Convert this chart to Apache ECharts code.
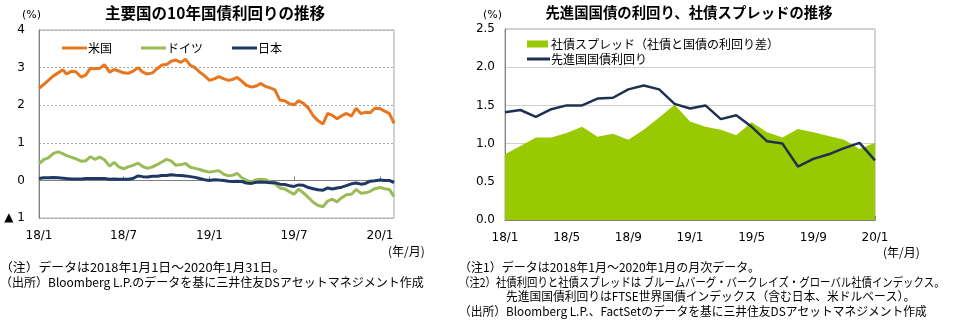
<!DOCTYPE html>
<html><head><meta charset="utf-8">
<script src="https://cdn.jsdelivr.net/npm/echarts@6/dist/echarts.min.js"></script>
<style>html,body{margin:0;padding:0;background:#fff}#c{width:956px;height:323px}</style>
</head><body><div id="c"></div>
<script>
// ---------- Left chart: 10Y government bond yields (sampled dates) ----------
const sampleDates = [
 '2018-01-01','2018-01-11','2018-01-21','2018-02-01','2018-02-11','2018-02-21','2018-03-01','2018-03-11','2018-03-21',
 '2018-04-01','2018-04-11','2018-04-21','2018-05-01','2018-05-11','2018-05-21','2018-06-01','2018-06-11','2018-06-21',
 '2018-07-01','2018-07-11','2018-07-21','2018-08-01','2018-08-11','2018-08-21','2018-09-01','2018-09-11','2018-09-21',
 '2018-10-01','2018-10-11','2018-10-21','2018-11-01','2018-11-11','2018-11-21','2018-12-01','2018-12-11','2018-12-21',
 '2019-01-01','2019-01-11','2019-01-21','2019-02-01','2019-02-11','2019-02-21','2019-03-01','2019-03-11','2019-03-21',
 '2019-04-01','2019-04-11','2019-04-21','2019-05-01','2019-05-11','2019-05-21','2019-06-01','2019-06-11','2019-06-21',
 '2019-07-01','2019-07-11','2019-07-21','2019-08-01','2019-08-11','2019-08-21','2019-09-01','2019-09-11','2019-09-21',
 '2019-10-01','2019-10-11','2019-10-21','2019-11-01','2019-11-11','2019-11-21','2019-12-01','2019-12-11','2019-12-21',
 '2020-01-01','2020-01-11','2020-01-21','2020-01-31'
];
const usYield = [
 2.45,2.55,2.66, 2.78,2.86,2.94, 2.83,2.90,2.89,
 2.75,2.80,2.98, 2.97,2.98,3.08, 2.88,2.95,2.91,
 2.86,2.85,2.90, 3.00,2.88,2.83, 2.86,2.97,3.07,
 3.08,3.17,3.20, 3.14,3.22,3.06, 3.00,2.88,2.79,
 2.66,2.70,2.76, 2.70,2.66,2.69, 2.74,2.64,2.53,
 2.48,2.51,2.58, 2.50,2.46,2.41, 2.13,2.12,2.04,
 2.01,2.12,2.05, 1.92,1.72,1.59, 1.50,1.78,1.73,
 1.64,1.72,1.78, 1.71,1.92,1.78, 1.81,1.80,1.92,
 1.91,1.84,1.78,1.52
];
const deYield = [
 0.45,0.55,0.60, 0.72,0.76,0.71, 0.66,0.62,0.57,
 0.51,0.52,0.63, 0.56,0.62,0.55, 0.38,0.48,0.36,
 0.31,0.36,0.40, 0.46,0.37,0.32, 0.36,0.42,0.49,
 0.56,0.52,0.40, 0.42,0.45,0.35, 0.32,0.29,0.25,
 0.22,0.24,0.26, 0.16,0.12,0.14, 0.19,0.07,0.01,
 -0.05,0.02,0.03, 0.02,-0.04,-0.09, -0.20,-0.23,-0.30,
 -0.37,-0.23,-0.33, -0.46,-0.58,-0.66, -0.70,-0.55,-0.50,
 -0.57,-0.46,-0.38, -0.37,-0.24,-0.34, -0.33,-0.29,-0.22,
 -0.19,-0.22,-0.24,-0.43
];
const jpYield = [
 0.05,0.07,0.07, 0.08,0.07,0.06, 0.05,0.04,0.04,
 0.04,0.05,0.05, 0.05,0.05,0.05, 0.03,0.04,0.03,
 0.03,0.03,0.05, 0.12,0.10,0.09, 0.11,0.11,0.13,
 0.13,0.15,0.14, 0.13,0.12,0.10, 0.08,0.05,0.02,
 0.00,0.02,0.01, 0.00,-0.02,-0.03, -0.02,-0.03,-0.07,
 -0.08,-0.05,-0.04, -0.05,-0.06,-0.06, -0.10,-0.11,-0.14,
 -0.16,-0.12,-0.13, -0.19,-0.22,-0.25, -0.26,-0.20,-0.23,
 -0.20,-0.18,-0.14, -0.09,-0.07,-0.10, -0.08,-0.02,-0.01,
 0.01,0.00,0.00,-0.06
];
const leftTickDates = ['2018-01-01','2018-07-01','2019-01-01','2019-07-01','2020-01-01'];
const leftStart = '2018-01-01', leftEnd = '2020-01-31';

// ---------- Right chart: monthly ----------
const months = [
 '2018-01','2018-02','2018-03','2018-04','2018-05','2018-06','2018-07','2018-08','2018-09','2018-10','2018-11','2018-12',
 '2019-01','2019-02','2019-03','2019-04','2019-05','2019-06','2019-07','2019-08','2019-09','2019-10','2019-11','2019-12',
 '2020-01'
];
const spread = [0.86,0.97,1.08,1.08,1.14,1.22,1.09,1.13,1.05,1.18,1.34,1.51,1.29,1.22,1.18,1.11,1.28,1.15,1.08,1.19,1.15,1.10,1.05,0.93,1.01];
const dmYield = [1.41,1.44,1.35,1.45,1.50,1.50,1.59,1.60,1.71,1.76,1.71,1.52,1.46,1.50,1.32,1.37,1.22,1.03,1.00,0.70,0.80,0.86,0.94,1.01,0.78];
const rightTickMonths = ['2018-01','2018-05','2018-09','2019-01','2019-05','2019-09','2020-01'];

// daily category axis
const days = [];
for (let t = Date.parse(leftStart + 'T00:00:00Z'); t <= Date.parse(leftEnd + 'T00:00:00Z'); t += 86400000) {
  days.push(new Date(t).toISOString().slice(0, 10));
}
const pair = (dates, vals) => dates.map((d, i) => [d, vals[i]]);
const ymLabel = s => s.slice(2, 4) + '/' + Number(s.slice(5, 7));

const JP = '"Noto Sans CJK JP", sans-serif';
const NUM = '"DejaVu Sans", sans-serif';
const noteFont = '12px ' + JP;
const note = (x, y, text, sx) => ({type: 'text', x: x, y: y, scaleX: sx || 1,
  style: {text: text, font: noteFont, fill: '#000'}});

const chart = echarts.init(document.getElementById('c'), null, {renderer: 'canvas'});
chart.setOption({
  animation: false,
  backgroundColor: '#fff',
  title: [
    {text: '主要国の10年国債利回りの推移', left: 215, textAlign: 'center', top: 5, padding: 0,
     textStyle: {fontFamily: JP, fontSize: 15.5, fontWeight: 'bold', color: '#000'}},
    {text: '先進国国債の利回り、社債スプレッドの推移', left: 689, textAlign: 'center', top: 5, padding: 0,
     textStyle: {fontFamily: JP, fontSize: 14.4, fontWeight: 'bold', color: '#000'}}
  ],
  legend: [
    {data: ['米国', 'ドイツ', '日本'], icon: 'rect', left: 57, top: 37, itemWidth: 25, itemHeight: 3, itemGap: 29,
     textStyle: {fontFamily: JP, fontSize: 12, color: '#000', padding: [0, 0, 0, -4]}},
    {data: ['社債スプレッド（社債と国債の利回り差）'], icon: 'rect', left: 522, top: 33, itemWidth: 21, itemHeight: 7,
     textStyle: {fontFamily: JP, fontSize: 12, color: '#000', padding: [0, 0, 0, -2]}},
    {data: ['先進国国債利回り'], icon: 'rect', left: 522, top: 48, itemWidth: 23, itemHeight: 3,
     textStyle: {fontFamily: JP, fontSize: 12, color: '#000', padding: [0, 0, 0, -4]}}
  ],
  grid: [
    {left: 39, right: 562, top: 30, bottom: 105, show: true, borderColor: '#a6a6a6', borderWidth: 1},
    {left: 505, right: 81, top: 29, bottom: 103, show: true, borderColor: '#a6a6a6', borderWidth: 1}
  ],
  xAxis: [
    {type: 'category', gridIndex: 0, data: days, boundaryGap: false,
     axisLine: {lineStyle: {color: '#808080', width: 1}},
     axisTick: {inside: true, length: 4, lineStyle: {color: '#808080'},
                interval: (i, v) => leftTickDates.includes(v)},
     axisLabel: {interval: (i, v) => leftTickDates.includes(v), formatter: v => ymLabel(v),
                 fontFamily: NUM, fontSize: 12, color: '#000', margin: 12}},
    {type: 'category', gridIndex: 1, data: months, boundaryGap: false,
     axisLine: {lineStyle: {color: '#808080', width: 1}},
     axisTick: {inside: true, length: 4, lineStyle: {color: '#808080'},
                interval: (i, v) => rightTickMonths.includes(v)},
     axisLabel: {interval: (i, v) => rightTickMonths.includes(v), formatter: v => ymLabel(v),
                 fontFamily: NUM, fontSize: 12, color: '#000', margin: 12}}
  ],
  yAxis: [
    {type: 'value', gridIndex: 0, min: -1, max: 4, interval: 1,
     axisLine: {show: true, lineStyle: {color: '#808080'}}, axisTick: {show: false},
     splitLine: {lineStyle: {color: '#a6a6a6', type: [2, 2], width: 1}},
     axisLabel: {formatter: v => v < 0 ? '▲ ' + (-v) : String(v), fontFamily: NUM, fontSize: 12, color: '#000', margin: 14}},
    {type: 'value', gridIndex: 1, min: 0, max: 2.5, interval: 0.5,
     axisLine: {show: true, lineStyle: {color: '#808080'}}, axisTick: {show: false},
     splitLine: {lineStyle: {color: '#d0d0d0', width: 1}},
     axisLabel: {formatter: v => v.toFixed(1), fontFamily: NUM, fontSize: 12, color: '#000', margin: 10}}
  ],
  series: [
    {name: '米国', type: 'line', xAxisIndex: 0, yAxisIndex: 0, data: pair(sampleDates, usYield),
     symbol: 'none', lineStyle: {color: '#e8761e', width: 3}, itemStyle: {color: '#e8761e'}},
    {name: 'ドイツ', type: 'line', xAxisIndex: 0, yAxisIndex: 0, data: pair(sampleDates, deYield),
     symbol: 'none', lineStyle: {color: '#9bbb59', width: 3}, itemStyle: {color: '#9bbb59'}},
    {name: '日本', type: 'line', xAxisIndex: 0, yAxisIndex: 0, data: pair(sampleDates, jpYield),
     symbol: 'none', lineStyle: {color: '#1f3864', width: 3}, itemStyle: {color: '#1f3864'}},
    {name: '社債スプレッド（社債と国債の利回り差）', type: 'line', xAxisIndex: 1, yAxisIndex: 1, data: spread,
     symbol: 'none', lineStyle: {width: 0, color: '#99c900'}, areaStyle: {color: '#99c900', opacity: 1},
     itemStyle: {color: '#99c900'}},
    {name: '先進国国債利回り', type: 'line', xAxisIndex: 1, yAxisIndex: 1, data: dmYield,
     symbol: 'none', lineStyle: {color: '#1f3050', width: 2.5}, itemStyle: {color: '#1f3050'}}
  ],
  graphic: [
    {type: 'text', x: 22, y: 10, style: {text: '(%)', font: '11px ' + NUM, fill: '#000'}},
    {type: 'text', x: 483, y: 10, style: {text: '(%)', font: '11px ' + NUM, fill: '#000'}},
    {type: 'text', x: 388, y: 245, style: {text: '(年/月)', font: '12px ' + JP, fill: '#000'}},
    {type: 'text', x: 883, y: 246, style: {text: '(年/月)', font: '12px ' + JP, fill: '#000'}},
    note(0, 261, '（注）データは2018年1月1日～2020年1月31日。', 1.07),
    note(0, 276, '（出所）Bloomberg L.P.のデータを基に三井住友DSアセットマネジメント作成', 1.0),
    note(459, 261, '（注1）データは2018年1月～2020年1月の月次データ。', 1.0),
    note(459, 276, '（注2）社債利回りと社債スプレッドは ブルームバーグ・バークレイズ・グローバル社債インデックス。', 0.865),
    note(506, 290, '先進国国債利回りはFTSE世界国債インデックス（含む日本、米ドルベース）。', 0.98),
    note(459, 305, '（出所）Bloomberg L.P.、FactSetのデータを基に三井住友DSアセットマネジメント作成', 0.98)
  ]
});
</script></body></html>
